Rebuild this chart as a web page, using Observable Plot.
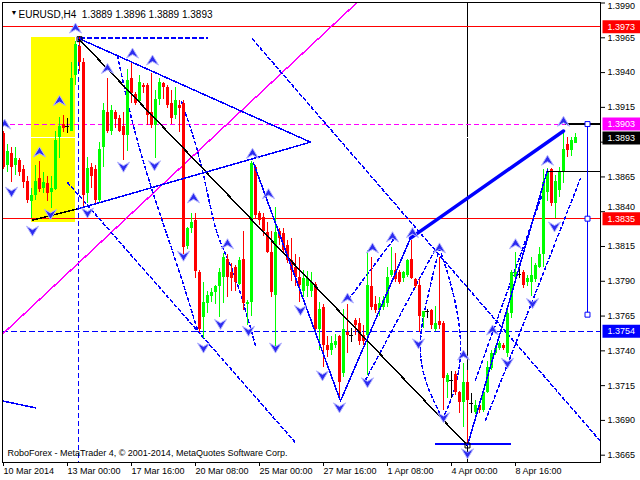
<!DOCTYPE html>
<html><head><meta charset="utf-8">
<script src="https://cdn.jsdelivr.net/npm/d3@7"></script>
<script src="https://cdn.jsdelivr.net/npm/@observablehq/plot@0.6"></script>
<style>
html,body{margin:0;padding:0;background:#fff;}
#chart{width:640px;height:480px;overflow:hidden;}
</style></head><body><div id="chart"></div>
<script>
// ---- H4 candles EURUSD (bar index 0 = 10 Mar 2014 08:00) ----
const openP = [
1.3896,1.3873,1.3882,1.3873,1.3877,1.3870,1.3862,1.3847,1.3852,1.3864,
1.3857,1.3860,1.3854,1.3856,1.3893,1.3903,1.3901,1.3898,1.3938,1.3959,
1.3947,1.3853,1.3872,1.3870,1.3848,1.3886,1.3911,1.3898,1.3911,1.3907,
1.3901,1.3895,1.3936,1.3924,1.3919,1.3931,1.3931,1.3911,1.3902,1.3921,
1.3932,1.3929,1.3918,1.3909,1.3916,1.3918,1.3815,1.3828,1.3834,1.3796,
1.3764,1.3774,1.3779,1.3782,1.3786,1.3793,1.3806,1.3796,1.3800,1.3788,
1.3806,1.3773,1.3775,1.3872,1.3839,1.3836,1.3825,1.3811,1.3780,1.3826,
1.3824,1.3816,1.3805,1.3800,1.3793,1.3783,1.3786,1.3783,1.3788,1.3755,
1.3771,1.3744,1.3740,1.3744,1.3750,1.3724,1.3753,1.3751,1.3762,1.3760,
1.3751,1.3751,1.3786,1.3773,1.3769,1.3771,1.3774,1.3794,1.3798,1.3796,
1.3792,1.3794,1.3806,1.3791,1.3787,1.3764,1.3768,1.3769,1.3755,1.3761,
1.3760,1.3717,1.3719,1.3723,1.3710,1.3703,1.3717,1.3702,1.3696,1.3701,
1.3697,1.3710,1.3727,1.3738,1.3742,1.3744,1.3738,1.3767,1.3793,1.3795,
1.3796,1.3789,1.3789,1.3791,1.3800,1.3809,1.3854,1.3870,1.3846,1.3855,
1.3868,1.3888,1.3884,1.3889];
const highP = [
1.3898,1.3888,1.3886,1.3886,1.3878,1.3873,1.3865,1.3857,1.3873,1.3876,
1.3868,1.3865,1.3865,1.3898,1.3908,1.3909,1.3907,1.3947,1.3962,1.3966,
1.3950,1.3879,1.3875,1.3873,1.3890,1.3918,1.3936,1.3916,1.3913,1.3909,
1.3911,1.3942,1.3947,1.3926,1.3938,1.3932,1.3932,1.3939,1.3927,1.3936,
1.3933,1.3931,1.3927,1.3929,1.3920,1.3920,1.3829,1.3839,1.3839,1.3798,
1.3789,1.3783,1.3785,1.3787,1.3799,1.3810,1.3809,1.3803,1.3801,1.3807,
1.3826,1.3776,1.3876,1.3873,1.3840,1.3839,1.3832,1.3826,1.3843,1.3828,
1.3828,1.3819,1.3821,1.3809,1.3807,1.3798,1.3797,1.3796,1.3789,1.3775,
1.3773,1.3750,1.3750,1.3752,1.3751,1.3770,1.3773,1.3756,1.3763,1.3763,
1.3758,1.3812,1.3807,1.3779,1.3778,1.3779,1.3800,1.3814,1.3810,1.3798,
1.3797,1.3806,1.3819,1.3792,1.3791,1.3768,1.3770,1.3770,1.3772,1.3807,
1.3761,1.3724,1.3725,1.3725,1.3711,1.3731,1.3726,1.3709,1.3704,1.3703,
1.3711,1.3732,1.3740,1.3744,1.3747,1.3745,1.3769,1.3798,1.3811,1.3803,
1.3798,1.3794,1.3807,1.3803,1.3814,1.3870,1.3871,1.3871,1.3866,1.3872,
1.3898,1.3893,1.3893,1.3896];
const lowP = [
1.3870,1.3868,1.3861,1.3866,1.3865,1.3857,1.3846,1.3835,1.3848,1.3854,
1.3853,1.3847,1.3842,1.3855,1.3878,1.3897,1.3896,1.3898,1.3931,1.3941,
1.3844,1.3846,1.3857,1.3846,1.3846,1.3872,1.3896,1.3895,1.3900,1.3897,
1.3877,1.3883,1.3918,1.3916,1.3918,1.3925,1.3902,1.3900,1.3878,1.3916,
1.3921,1.3914,1.3903,1.3906,1.3897,1.3809,1.3813,1.3824,1.3792,1.3753,
1.3749,1.3767,1.3775,1.3773,1.3764,1.3774,1.3778,1.3783,1.3783,1.3787,
1.3769,1.3758,1.3765,1.3835,1.3830,1.3822,1.3810,1.3778,1.3740,1.3816,
1.3809,1.3803,1.3790,1.3786,1.3775,1.3778,1.3778,1.3778,1.3751,1.3740,
1.3728,1.3735,1.3737,1.3742,1.3704,1.3721,1.3738,1.3746,1.3751,1.3744,
1.3744,1.3722,1.3769,1.3767,1.3765,1.3769,1.3771,1.3793,1.3789,1.3788,
1.3789,1.3793,1.3791,1.3785,1.3753,1.3756,1.3763,1.3755,1.3754,1.3755,
1.3697,1.3706,1.3706,1.3708,1.3695,1.3685,1.3672,1.3695,1.3694,1.3695,
1.3696,1.3709,1.3726,1.3737,1.3740,1.3740,1.3735,1.3763,1.3792,1.3792,
1.3785,1.3786,1.3779,1.3789,1.3799,1.3800,1.3847,1.3844,1.3835,1.3850,
1.3860,1.3879,1.3880,1.3889];
const closeP = [
1.3872,1.3883,1.3872,1.3878,1.3868,1.3861,1.3848,1.3852,1.3862,1.3856,
1.3861,1.3853,1.3857,1.3891,1.3901,1.3900,1.3901,1.3936,1.3960,1.3947,
1.3852,1.3871,1.3865,1.3848,1.3885,1.3913,1.3898,1.3913,1.3906,1.3898,
1.3895,1.3934,1.3925,1.3918,1.3933,1.3929,1.3909,1.3902,1.3921,1.3933,
1.3929,1.3916,1.3907,1.3920,1.3914,1.3814,1.3828,1.3832,1.3797,1.3755,
1.3775,1.3780,1.3782,1.3786,1.3796,1.3807,1.3793,1.3792,1.3789,1.3805,
1.3774,1.3775,1.3875,1.3837,1.3834,1.3826,1.3811,1.3782,1.3825,1.3821,
1.3812,1.3805,1.3798,1.3793,1.3787,1.3792,1.3792,1.3789,1.3755,1.3770,
1.3744,1.3740,1.3745,1.3747,1.3717,1.3755,1.3751,1.3751,1.3758,1.3747,
1.3747,1.3787,1.3771,1.3769,1.3774,1.3776,1.3793,1.3798,1.3791,1.3789,
1.3796,1.3805,1.3792,1.3786,1.3765,1.3768,1.3768,1.3758,1.3760,1.3758,
1.3720,1.3722,1.3719,1.3710,1.3703,1.3717,1.3704,1.3702,1.3701,1.3697,
1.3710,1.3728,1.3738,1.3742,1.3745,1.3742,1.3767,1.3796,1.3796,1.3795,
1.3787,1.3792,1.3794,1.3801,1.3809,1.3861,1.3868,1.3846,1.3862,1.3868,
1.3885,1.3884,1.3891,1.3893];

// ---- axes ----
const dateTickIdx = [0,16,32,48,64,80,96,112,128];
const dateTickLabels = ["10 Mar 2014","13 Mar 00:00","17 Mar 16:00","20 Mar 08:00","25 Mar 00:00","27 Mar 16:00","1 Apr 08:00","4 Apr 00:00","8 Apr 16:00"];
const priceTicks = [1.3990,1.3965,1.3940,1.3915,1.3890,1.3865,1.3840,1.3815,1.3790,1.3765,1.3740,1.3715,1.3690,1.3665];
const topPriceLabel = [1.3990];      // drawn nudged down inside the picture
const crowdedPriceLabel = [1.3840];  // drawn nudged up above the 1.3835 tag
const hiddenPriceLabels = [1.3890];  // covered by the bid tag in the terminal

// ---- levels & objects (bar index, price) ----
const redLevels = [1.3973, 1.3835];
const magentaLevel = [1.3903];
const blueLevel = [1.3754];
const bidLevel = [1.3893];
const tagPrices = [1.3973, 1.3903, 1.3893, 1.3835, 1.3754];
const yellowBox = [[7, 18, 1.3832, 1.3965]];
const peakTopDash = [[19.25, 1.3965], [51, 1.3965]];
const peakVertical = [[18.75, 1.3965, 1.3660]];
const blackVertical = [116];
const blackTrend = [[18.9, 1.3964], [116, 1.3672]];
const blackShort = [[7.25, 1.3834], [18.5, 1.3842]];
const triUpper = [[19.25, 1.3964], [76.75, 1.3890]];
const triLower = [[18.5, 1.3842], [76.75, 1.3890]];
const magentaDiag = [[-0.25, 1.3752], [88.25, 1.3990]];
const channelA = [[62.25, 1.3964], [149.25, 1.3675]];
const channelB = [[16, 1.3861], [73, 1.3674]];
const zigzag = [[62.5, 1.3875], [84.25, 1.3704], [101.75, 1.3821]];
const thickLeg = [[101.75, 1.3821], [140, 1.3898]];
const rightV = [[116, 1.3672], [136, 1.3870]];
const blackLevelA = [[136, 1.3869], [149.25, 1.3869]];
const blackLevelB = [[140.5, 1.3903], [149.25, 1.3903]];
const targetBar = [[146, 1.3903, 1.3766]];
const targetSquares = [[146, 1.3903], [146, 1.3835], [146, 1.3766]];
const blackSquares = [[19, 1.3964], [116, 1.3672]];
const bottomLine = [[108, 1.3673], [126.75, 1.3673]];
const leftLine = [[-0.25, 1.3704], [8, 1.3699]];
const arcA = [[28.5,1.3952],[31.25,1.3916],[34.25,1.3883],[38,1.3848],[41.75,1.3816],[45.5,1.3783],[48.5,1.3755]];
const arcC = [[44.5,1.3919],[47.75,1.3891],[50.5,1.3860],[53.5,1.3824],[57.5,1.3796],[61,1.3764],[63,1.3744]];
const vDash1 = [[86.25, 1.3777], [98, 1.3822]];
const vDash2 = [[90.5, 1.3719], [107.75, 1.3812]];
const rvDash1 = [[118, 1.3719], [134.75, 1.3853]];
const rvDash2 = [[120.5, 1.3690], [144.25, 1.3864]];
const lensLeft = [[109,1.3814],[106,1.3778],[104.25,1.3747],[105.5,1.3719],[109.75,1.3691]];
const lensRight = [[109,1.3814],[112.25,1.3783],[114.25,1.3747],[113,1.3715],[109.75,1.3691]];
const upArrows = [[0.3,1.3903],[9,1.3883],[14,1.3920],[18,1.3972],[26,1.3943],[32.25,1.3954],[37.25,1.3949],
  [47.5,1.3850],[62.25,1.3882],[66.25,1.3853],[56,1.3817],[86,1.3778],[92.25,1.3814],[97.25,1.3822],
  [102.25,1.3825],[109,1.3814],[115,1.3737],[122.25,1.3755],[128,1.3817],[136,1.3877],[140,1.3905]];
const downArrows = [[2,1.3854],[7.25,1.3826],[11.75,1.3838],[21,1.3839],[30,1.3872],[37.75,1.3873],
  [45,1.3808],[50,1.3742],[54.25,1.3759],[61.25,1.3754],[68,1.3742],[74.25,1.3769],[79.75,1.3722],
  [84,1.3699],[91,1.3717],[103.75,1.3745],[110,1.3692],[116,1.3666],[126,1.3731],[132.25,1.3774],[137.75,1.3829]];
const symbolName = "EURUSD,H4";
const footerText = "RoboForex - MetaTrader 4, © 2001-2014, MetaQuotes Software Corp.";

// ---- build ----
const candles = openP.map((o, i) => ({i, open: o, high: highP[i], low: lowP[i], close: closeP[i]}));
const candleColor = d => d.close > d.open ? "#00ff00" : d.close < d.open ? "#ff0000" : "#000000";
const bodies = candles.filter(d => d.open !== d.close);
const dojis = candles.filter(d => d.open === d.close);
const last = candles[candles.length - 1];
const header = `${symbolName}\u00a0\u00a0${last.open.toFixed(4)} ${last.high.toFixed(4)} ${last.low.toFixed(4)} ${last.close.toFixed(4)}`;
const tagColors = ["#ff0000", "#ff00ff", "#000000", "#ff0000", "#0000ff"];
const tags = tagPrices.map((p, k) => ({p, c: tagColors[k]}));
const special = [...topPriceLabel, ...crowdedPriceLabel, ...hiddenPriceLabels];
const axisLabelText = d => special.includes(d) ? "" : d.toFixed(4);

const upSym = {draw(c){c.moveTo(0,-5);c.lineTo(6,5);c.lineTo(0,1.5);c.lineTo(-6,5);c.closePath();}};
const dnSym = {draw(c){c.moveTo(0,5);c.lineTo(6,-5);c.lineTo(0,-1.5);c.lineTo(-6,-5);c.closePath();}};
const tagSym = {draw(c){c.rect(-18,-6.5,42,13);}};
const X = d => d[0], Y = d => d[1];
const BLUE = "#0000ff";
const thin = {clip: true, shapeRendering: "crispEdges"};

const chart = Plot.plot({
  width: 640, height: 480,
  marginLeft: 2, marginRight: 40, marginTop: 2, marginBottom: 18,
  x: {domain: [-0.25, 149.25]},
  y: {domain: [1.365975, 1.399037]},
  style: {background: "white", color: "black", fontFamily: "'Liberation Sans', Arial, sans-serif", fontSize: "9px"},
  marks: [
    Plot.rect(yellowBox, {x1: d => d[0], x2: d => d[1], y1: d => d[2], y2: d => d[3], fill: "#ffff00", ...thin}),
    Plot.ruleX(blackVertical, {x: d => d, stroke: "black", ...thin}),
    Plot.ruleY(bidLevel, {y: d => d, stroke: "white", ...thin}),
    Plot.ruleY(redLevels, {y: d => d, stroke: "#ff0000", ...thin}),
    Plot.ruleY(magentaLevel, {y: d => d, stroke: "#ff00ff", strokeDasharray: "5,3", ...thin}),
    Plot.ruleY(blueLevel, {y: d => d, stroke: BLUE, strokeDasharray: "6,3", ...thin}),
    Plot.ruleX(peakVertical, {x: d => d[0], y1: d => d[1], y2: d => d[2], stroke: BLUE, strokeDasharray: "5,3", ...thin}),
    Plot.line(peakTopDash, {x: X, y: Y, stroke: BLUE, strokeDasharray: "4,3", ...thin}),
    Plot.line(magentaDiag, {x: X, y: Y, stroke: "#ff00ff", ...thin}),
    Plot.line(channelA, {x: X, y: Y, stroke: BLUE, strokeDasharray: "3,3", ...thin}),
    Plot.line(channelB, {x: X, y: Y, stroke: BLUE, strokeDasharray: "3,3", ...thin}),
    Plot.line(arcA, {x: X, y: Y, stroke: BLUE, strokeDasharray: "3,3", curve: "natural", ...thin}),
    Plot.line(arcC, {x: X, y: Y, stroke: BLUE, strokeDasharray: "3,3", curve: "natural", ...thin}),
    Plot.line(vDash1, {x: X, y: Y, stroke: BLUE, strokeDasharray: "3,3", ...thin}),
    Plot.line(vDash2, {x: X, y: Y, stroke: BLUE, strokeDasharray: "3,3", ...thin}),
    Plot.line(rvDash1, {x: X, y: Y, stroke: BLUE, strokeDasharray: "3,3", ...thin}),
    Plot.line(rvDash2, {x: X, y: Y, stroke: BLUE, strokeDasharray: "3,3", ...thin}),
    Plot.line(lensLeft, {x: X, y: Y, stroke: BLUE, strokeDasharray: "3,3", curve: "natural", ...thin}),
    Plot.line(lensRight, {x: X, y: Y, stroke: BLUE, strokeDasharray: "3,3", curve: "natural", ...thin}),
    // candles
    Plot.ruleX(candles, {x: "i", y1: "low", y2: "high", stroke: candleColor, ...thin}),
    Plot.ruleX(bodies, {x: "i", y1: "open", y2: "close", stroke: candleColor, strokeWidth: 3, ...thin}),
    Plot.ruleY(dojis, {y: "open", x1: d => d.i - 0.6, x2: d => d.i + 0.6, stroke: "black", ...thin}),
    // trend objects
    Plot.line(blackTrend, {x: X, y: Y, stroke: "black", ...thin}),
    Plot.line(blackShort, {x: X, y: Y, stroke: "black", ...thin}),
    Plot.line(triUpper, {x: X, y: Y, stroke: BLUE, ...thin}),
    Plot.line(triLower, {x: X, y: Y, stroke: BLUE, ...thin}),
    Plot.line(zigzag, {x: X, y: Y, stroke: BLUE, ...thin}),
    Plot.line(thickLeg, {x: X, y: Y, stroke: BLUE, strokeWidth: 3.5, clip: true}),
    Plot.line(rightV, {x: X, y: Y, stroke: BLUE, ...thin}),
    Plot.line(blackLevelA, {x: X, y: Y, stroke: "black", ...thin}),
    Plot.line(blackLevelB, {x: X, y: Y, stroke: "black", ...thin}),
    Plot.line(bottomLine, {x: X, y: Y, stroke: BLUE, ...thin}),
    Plot.line(leftLine, {x: X, y: Y, stroke: BLUE, ...thin}),
    Plot.ruleX(targetBar, {x: d => d[0], y1: d => d[1], y2: d => d[2], stroke: BLUE, ...thin}),
    Plot.dot(targetSquares, {x: X, y: Y, symbol: "square", r: 2.8, stroke: BLUE, fill: "white", strokeWidth: 1}),
    Plot.dot(blackSquares, {x: X, y: Y, symbol: "square", r: 2.8, stroke: "black", fill: "none", strokeWidth: 1}),
    Plot.dot(upArrows, {x: X, y: Y, symbol: upSym, fill: "#2c2cf0", stroke: "#b4b4ff", strokeWidth: 1, clip: true}),
    Plot.dot(downArrows, {x: X, y: Y, symbol: dnSym, fill: "#2c2cf0", stroke: "#b4b4ff", strokeWidth: 1, clip: true}),
    // frame and axes
    Plot.frame({stroke: "black", shapeRendering: "crispEdges"}),
    Plot.axisY(priceTicks, {anchor: "right", tickSize: 4, tickPadding: 3, tickFormat: axisLabelText, label: null}),
    Plot.text(topPriceLabel, {y: d => d, frameAnchor: "right", dx: 7, dy: 3, text: d => d.toFixed(4), textAnchor: "start"}),
    Plot.text(crowdedPriceLabel, {y: d => d, frameAnchor: "right", dx: 7, dy: -5, text: d => d.toFixed(4), textAnchor: "start"}),
    Plot.axisX(dateTickIdx, {anchor: "bottom", tickSize: 4, tickPadding: 1, tickFormat: d => dateTickLabels[dateTickIdx.indexOf(d)], textAnchor: "start", dx: 0, label: null}),
    Plot.dot(tags, {y: "p", frameAnchor: "right", dx: 20, symbol: tagSym, fill: d => d.c, stroke: null}),
    Plot.text(tags, {y: "p", frameAnchor: "right", dx: 7, text: d => d.p.toFixed(4), textAnchor: "start", fill: "white"}),
    // header & footer
    Plot.text(["\u25bc"], {frameAnchor: "top-left", dx: 8, dy: 8, fontSize: 7}),
    Plot.text([header], {frameAnchor: "top-left", dx: 16, dy: 8, textAnchor: "start", fontSize: 10}),
    Plot.text([footerText], {frameAnchor: "bottom-left", dx: 5, dy: -7, textAnchor: "start"})
  ]
});
document.getElementById("chart").appendChild(chart);
</script>
</body></html>
